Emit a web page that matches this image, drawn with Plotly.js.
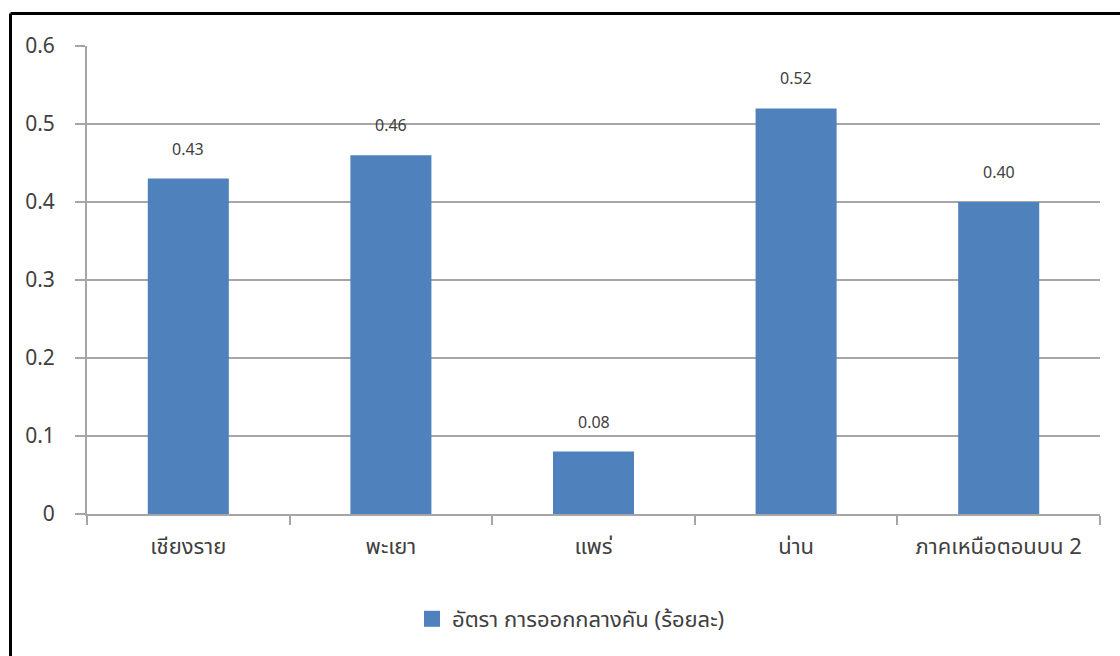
<!DOCTYPE html>
<html>
<head>
<meta charset="utf-8">
<script src="https://cdn.plot.ly/plotly-3.0.1.min.js"></script>
<style>
html,body{margin:0;padding:0;background:#fff;}
#chart{width:1120px;height:656px;}
</style>
</head>
<body>
<div id="chart"></div>
<script>
const categories = ["เชียงราย", "พะเยา", "แพร่", "น่าน", "ภาคเหนือตอนบน 2"];
const values = [0.43, 0.46, 0.08, 0.52, 0.40];
const valueLabels = ["0.43", "0.46", "0.08", "0.52", "0.40"];
const seriesName = "อัตรา การออกกลางคัน (ร้อยละ)";
const yTicks = [0, 0.1, 0.2, 0.3, 0.4, 0.5, 0.6];
const yTickLabels = ["0", "0.1", "0.2", "0.3", "0.4", "0.5", "0.6"];

const fontFam = "Tahoma, 'Noto Sans', 'Noto Sans Thai', 'DejaVu Sans', sans-serif";
const txtColor = "#404040";
const gridColor = "#a6a6a6";
const barColor = "#4f81bd";

const W = 1120, H = 656;
const L = 87, R = 20, T = 46, B = 142;
const pw = W - L - R, ph = H - T - B;
const px = v => (v - L) / pw;
const py = v => 1 - (v - T) / ph;

const barTrace = {
  type: "bar",
  x: categories,
  y: values,
  name: seriesName,
  marker: { color: barColor },
  showlegend: false,
  hoverinfo: "x+y"
};

const legendTrace = {
  type: "scatter", mode: "markers",
  x: [null], y: [null],
  name: seriesName,
  marker: { symbol: "square", size: 16, color: barColor },
  showlegend: true,
  hoverinfo: "skip"
};

const annotations = categories.map((c, i) => ({
  x: c, y: values[i], xref: "x", yref: "y",
  text: valueLabels[i], showarrow: false,
  yanchor: "middle", yshift: 30,
  font: { family: fontFam, size: 16, color: txtColor }
}));

const layout = {
  width: W, height: H,
  margin: { l: L, r: R, t: T, b: B, pad: 0 },
  paper_bgcolor: "#fff", plot_bgcolor: "#fff",
  font: { family: fontFam, color: txtColor },
  bargap: 0.6,
  showlegend: true,
  legend: {
    orientation: "h", x: px(412), xanchor: "left", y: py(619), yanchor: "middle",
    font: { family: fontFam, size: 22, color: txtColor },
    itemwidth: 30
  },
  xaxis: {
    type: "category",
    showgrid: false,
    showline: true, linecolor: gridColor, linewidth: 2,
    ticks: "outside", tickson: "boundaries", ticklen: 9, tickcolor: gridColor, tickwidth: 2,
    tickfont: { family: fontFam, size: 22, color: txtColor },
    ticklabelstandoff: 12,
    zeroline: false
  },
  yaxis: {
    range: [0, 0.6],
    tickmode: "array", tickvals: yTicks, ticktext: yTickLabels,
    showgrid: true, gridcolor: gridColor, gridwidth: 2,
    showline: true, linecolor: gridColor, linewidth: 2,
    ticks: "outside", ticklen: 10, tickcolor: gridColor, tickwidth: 2,
    tickfont: { family: fontFam, size: 21, color: txtColor },
    ticklabelstandoff: 16,
    zeroline: false
  },
  annotations: annotations,
  shapes: [
    { type: "line", xref: "paper", yref: "paper",
      x0: px(10.5), x1: px(10.5), y0: py(700), y1: py(13.5),
      line: { color: "#000", width: 3 } },
    { type: "line", xref: "paper", yref: "paper",
      x0: px(10.5), x1: px(1160), y0: py(13.5), y1: py(13.5),
      line: { color: "#000", width: 3 } }
  ]
};

Plotly.newPlot("chart", [barTrace, legendTrace], layout, { displayModeBar: false, staticPlot: true });
</script>
</body>
</html>
